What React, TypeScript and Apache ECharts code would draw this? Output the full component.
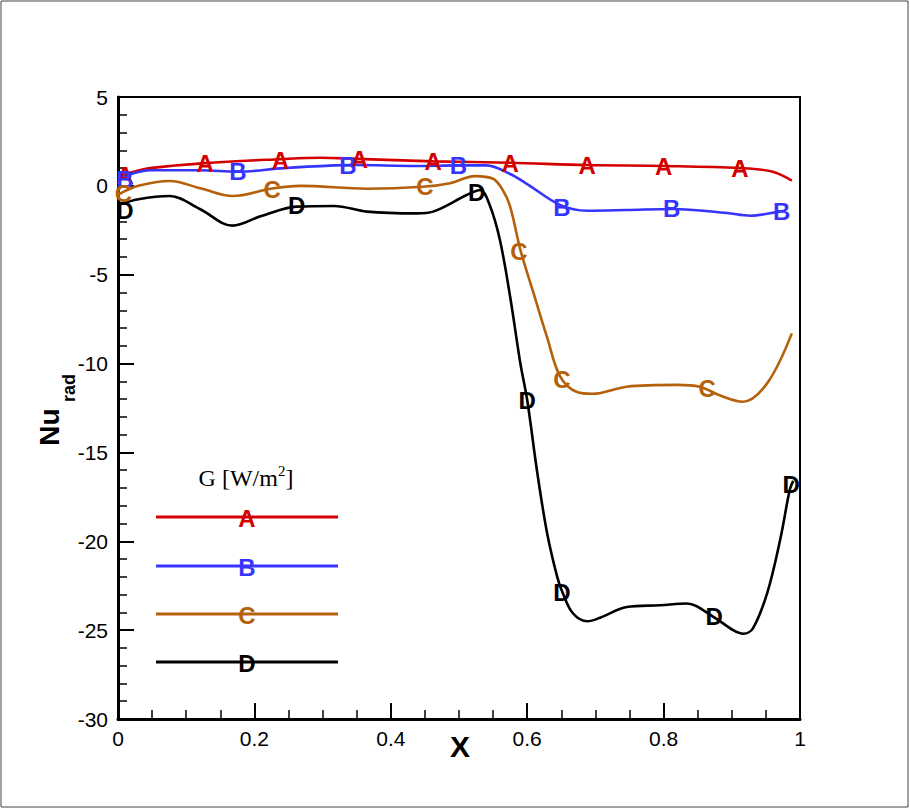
import React, { useEffect, useRef } from "react";
import * as echarts from "echarts";

// ---------- data ----------
const seriesNames = ["A", "B", "C", "D"];
const seriesColors = ["#d40000", "#3535ff", "#b5600b", "#000000"];

const seriesA: number[][] = [
  [0.0, 0.5], [0.022, 0.78], [0.047, 1.0], [0.128, 1.28], [0.238, 1.5], [0.296, 1.58],
  [0.35, 1.52], [0.462, 1.38], [0.575, 1.3], [0.688, 1.17], [0.8, 1.12], [0.912, 1.0],
  [0.96, 0.8], [0.988, 0.3],
];
const seriesB: number[][] = [
  [0.0, 0.4], [0.022, 0.7], [0.047, 0.88], [0.12, 0.88], [0.176, 0.8], [0.243, 1.0],
  [0.317, 1.15], [0.345, 1.17], [0.438, 1.12], [0.5, 1.15], [0.54, 1.15], [0.575, 0.67],
  [0.6, 0.1], [0.648, -1.07], [0.688, -1.4], [0.746, -1.36], [0.814, -1.3], [0.893, -1.53],
  [0.927, -1.68], [0.97, -1.45], [0.978, -1.4],
];
const seriesC: number[][] = [
  [0.0, -0.5], [0.03, 0.0], [0.076, 0.27], [0.122, -0.15], [0.168, -0.57], [0.226, -0.15],
  [0.267, 0.0], [0.365, -0.16], [0.447, -0.05], [0.487, 0.15], [0.523, 0.55], [0.55, 0.4],
  [0.564, -0.23], [0.575, -1.17], [0.59, -3.6], [0.609, -6.0], [0.629, -8.5], [0.648, -10.7],
  [0.673, -11.6], [0.696, -11.7], [0.746, -11.3], [0.82, -11.2], [0.853, -11.3], [0.883, -11.8],
  [0.916, -12.15], [0.952, -11.1], [0.988, -8.3],
];
const seriesD: number[][] = [
  [0.0, -1.08], [0.03, -0.75], [0.076, -0.57], [0.12, -1.3], [0.168, -2.24], [0.21, -1.7],
  [0.262, -1.17], [0.317, -1.13], [0.365, -1.45], [0.438, -1.55], [0.462, -1.45], [0.512, -0.5],
  [0.531, -0.23], [0.545, -1.08], [0.56, -3.05], [0.575, -6.24], [0.59, -10.0], [0.6, -12.05],
  [0.615, -16.2], [0.629, -19.5], [0.644, -22.0], [0.652, -22.9], [0.667, -24.05], [0.688, -24.5],
  [0.707, -24.3], [0.746, -23.7], [0.795, -23.6], [0.834, -23.5], [0.873, -24.25], [0.902, -25.0],
  [0.917, -25.2], [0.931, -24.9], [0.952, -22.9], [0.971, -19.9], [0.985, -17.1], [0.99, -16.6],
];

const markersA: number[][] = [
  [0.01, 0.6], [0.128, 1.25], [0.238, 1.45], [0.354, 1.5], [0.462, 1.35], [0.575, 1.28],
  [0.688, 1.15], [0.8, 1.1], [0.912, 0.98],
];
const markersB: number[][] = [
  [0.01, 0.35], [0.176, 0.8], [0.337, 1.12], [0.499, 1.12], [0.651, -1.2], [0.812, -1.3], [0.973, -1.45],
];
const markersC: number[][] = [
  [0.008, -0.45], [0.226, -0.18], [0.45, -0.06], [0.588, -3.72], [0.651, -10.87], [0.864, -11.43],
];
const markersD: number[][] = [
  [0.01, -1.4], [0.262, -1.13], [0.526, -0.4], [0.6, -12.1], [0.651, -22.86], [0.874, -24.26], [0.987, -16.83],
];

const allSeries = [seriesA, seriesB, seriesC, seriesD];
const allMarkers = [markersA, markersB, markersC, markersD];

const legendTitle = "G [W/m";
const xAxisTitle = "X";
const yAxisTitleMain = "Nu";
const yAxisTitleSub = "rad";

const FONT = "Liberation Sans, Arial, Helvetica, sans-serif";

export default function App() {
  const ref = useRef<HTMLDivElement>(null);

  useEffect(() => {
    if (!ref.current) return;
    const chart = echarts.init(ref.current, null, { renderer: "svg" });

    const lineSeries = allSeries.map((data, i) => ({
      type: "line",
      name: seriesNames[i],
      data,
      smooth: 0.35,
      showSymbol: false,
      symbol: "none",
      lineStyle: { color: seriesColors[i], width: 2.6 },
      z: 2,
      silent: true,
    }));

    const markerSeries = allMarkers.map((data, i) => ({
      type: "scatter",
      name: seriesNames[i] + "-mk",
      data,
      symbol: "circle",
      symbolSize: 1,
      itemStyle: { color: seriesColors[i], opacity: 0 },
      label: {
        show: true,
        position: "inside",
        formatter: () => seriesNames[i],
        color: seriesColors[i],
        opacity: 1,
        textBorderWidth: 0,
        fontFamily: FONT,
        fontWeight: "bold",
        fontSize: 24,
      },
      z: 5,
      silent: true,
    }));

    const legendYs = [517, 566, 614, 662];
    const legendGraphics: any[] = [];
    legendYs.forEach((y, i) => {
      legendGraphics.push({
        type: "line",
        shape: { x1: 156, y1: y, x2: 338, y2: y },
        style: { stroke: seriesColors[i], lineWidth: 3 },
        silent: true,
      });
      legendGraphics.push({
        type: "text",
        x: 247,
        y: y + 1,
        style: {
          text: seriesNames[i],
          fill: seriesColors[i],
          font: `bold 24px ${FONT}`,
          textAlign: "center",
          textVerticalAlign: "middle",
        },
        silent: true,
      });
    });

    const option: any = {
      animation: false,
      backgroundColor: "#ffffff",
      grid: {
        left: 118,
        top: 97,
        width: 682,
        height: 622,
        show: true,
        borderColor: "#000",
        borderWidth: 2,
        backgroundColor: "transparent",
      },
      xAxis: {
        type: "value",
        min: 0,
        max: 1,
        interval: 0.2,
        axisLine: { show: true, onZero: false, lineStyle: { color: "#000", width: 3 } },
        axisTick: { show: true, inside: true, length: 16, lineStyle: { color: "#000", width: 2 } },
        minorTick: { show: true, splitNumber: 4, length: 9, lineStyle: { color: "#000", width: 1.5 } },
        splitLine: { show: false },
        minorSplitLine: { show: false },
        axisLabel: { color: "#000", fontFamily: FONT, fontSize: 21, margin: 9 },
      },
      yAxis: {
        type: "value",
        min: -30,
        max: 5,
        interval: 5,
        axisLine: { show: true, onZero: false, lineStyle: { color: "#000", width: 3 } },
        axisTick: { show: true, inside: true, length: 16, lineStyle: { color: "#000", width: 2 } },
        minorTick: { show: true, splitNumber: 5, length: 9, lineStyle: { color: "#000", width: 1.5 } },
        splitLine: { show: false },
        minorSplitLine: { show: false },
        axisLabel: { color: "#000", fontFamily: FONT, fontSize: 21, margin: 10 },
      },
      series: [...lineSeries, ...markerSeries],
      graphic: [
        {
          type: "rect",
          shape: { x: 1, y: 1, width: 907, height: 806 },
          style: { fill: "none", stroke: "#444", lineWidth: 1 },
          silent: true,
          z: -1,
        },
        {
          type: "text",
          x: 460,
          y: 746,
          style: {
            text: xAxisTitle,
            fill: "#000",
            font: `bold 30px ${FONT}`,
            textAlign: "center",
            textVerticalAlign: "middle",
          },
          silent: true,
        },
        {
          type: "text",
          x: 49,
          y: 427,
          rotation: Math.PI / 2,
          style: {
            text: yAxisTitleMain,
            fill: "#000",
            font: `bold 28px ${FONT}`,
            textAlign: "center",
            textVerticalAlign: "middle",
          },
          silent: true,
        },
        {
          type: "text",
          x: 69,
          y: 388,
          rotation: Math.PI / 2,
          style: {
            text: yAxisTitleSub,
            fill: "#000",
            font: `bold 18px ${FONT}`,
            textAlign: "center",
            textVerticalAlign: "middle",
          },
          silent: true,
        },
        {
          type: "text",
          x: 246,
          y: 478,
          style: {
            rich: {
              n: { fontFamily: "Liberation Serif, Times New Roman, serif", fontSize: 24, lineHeight: 30, fill: "#000" },
              s: { fontFamily: "Liberation Serif, Times New Roman, serif", fontSize: 15, lineHeight: 15, verticalAlign: "top", fill: "#000" },
            },
            text: `{n|${legendTitle}}{s|2}{n|]}`,
            textAlign: "center",
            textVerticalAlign: "middle",
          },
          silent: true,
        },
        ...legendGraphics,
      ],
    };

    chart.setOption(option);
    return () => chart.dispose();
  }, []);

  return (
    <div
      ref={ref}
      style={{ position: "fixed", left: 0, top: 0, width: 910, height: 809, background: "#fff" }}
    />
  );
}
